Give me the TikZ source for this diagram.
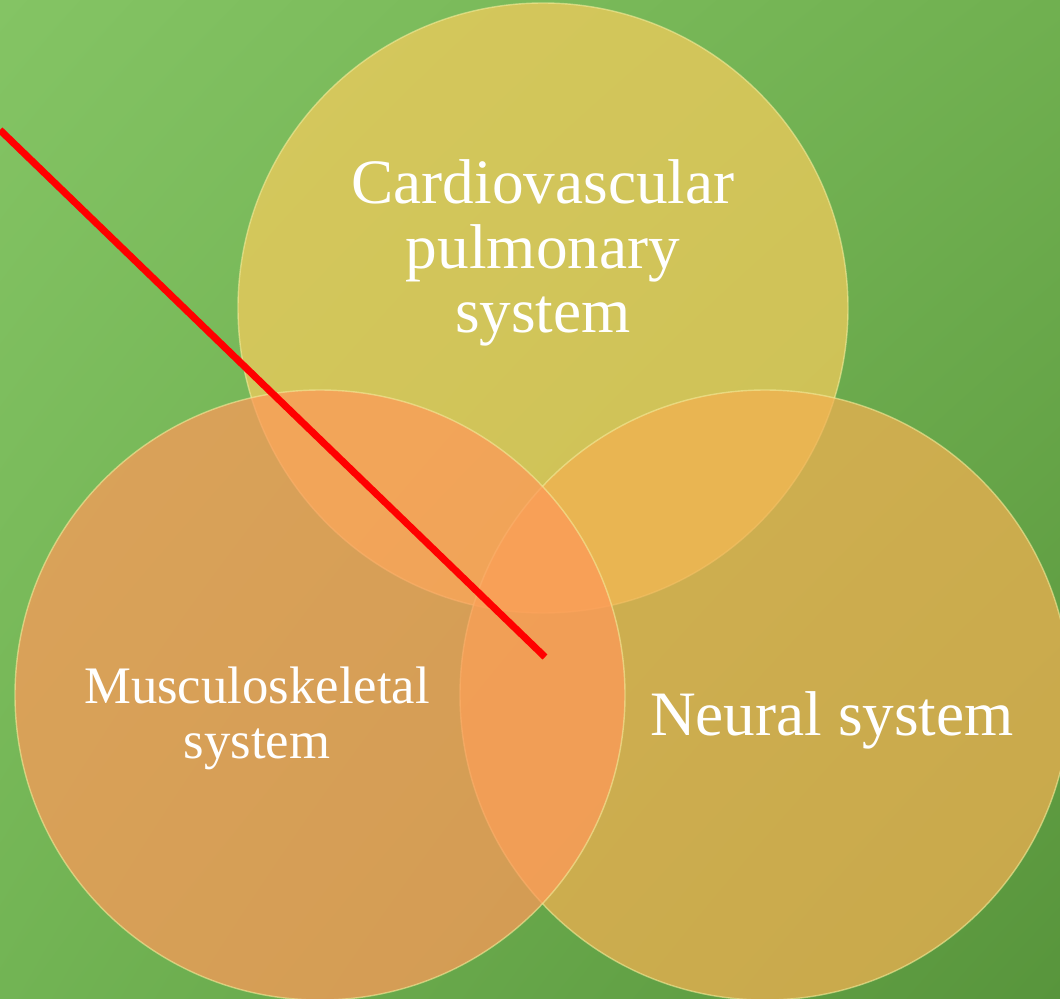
\documentclass[tikz,border=0pt]{standalone}
\usepackage{fontspec}
\setmainfont{Liberation Serif}
\usetikzlibrary{positioning,shadings}
\definecolor{bgtopleft}{HTML}{84C464}
\definecolor{bgtopright}{HTML}{70B050}
\definecolor{bgbotleft}{HTML}{72B454}
\definecolor{bgbotright}{HTML}{58953C}
\definecolor{cardiofill}{HTML}{F6CC5C}
\definecolor{musclefill}{HTML}{FF9959}
\definecolor{neuralfill}{HTML}{F4B051}
\definecolor{rimlight}{HTML}{F2EC9A}
\definecolor{pointerred}{HTML}{FF0000}
\tikzset{
  venn/.style={circle,inner sep=0pt,minimum size=183mm,fill opacity=0.72,draw=rimlight,draw opacity=0.6,line width=1.2pt},
  vennlabel/.style={text=white,align=center,inner sep=0pt}
}
\begin{document}
\begin{tikzpicture}[x=0.3mm,y=-0.3mm]
  \useasboundingbox (0,0) rectangle (1060,998);
  \clip (0,0) rectangle (1060,998);
  \shade[upper left=bgtopleft,upper right=bgtopright,lower left=bgbotleft,lower right=bgbotright] (0,0) rectangle (1060,998);

  \node[venn,fill=cardiofill] (cardio) at (543,308) {};
  \node[venn,fill=neuralfill] (neural) at (765,695) {};
  \node[venn,fill=musclefill] (muscle) at (320,695) {};

  \node[vennlabel,font=\fontsize{54}{55}\selectfont] (cardiotext) at (543,253) {Cardiovascular\\pulmonary\\system};
  \node[vennlabel,font=\fontsize{45}{47}\selectfont] (muscletext) at (257,718) {Musculoskeletal\\system};
  \node[vennlabel,font=\fontsize{54}{55}\selectfont] (neuraltext) at (832,720) {Neural system};

  \coordinate (pointerstart) at (0,130);
  \coordinate (pointertip) at (545,657);
  \draw[pointerred,line width=6pt] (pointerstart) -- (pointertip);
\end{tikzpicture}
\end{document}
